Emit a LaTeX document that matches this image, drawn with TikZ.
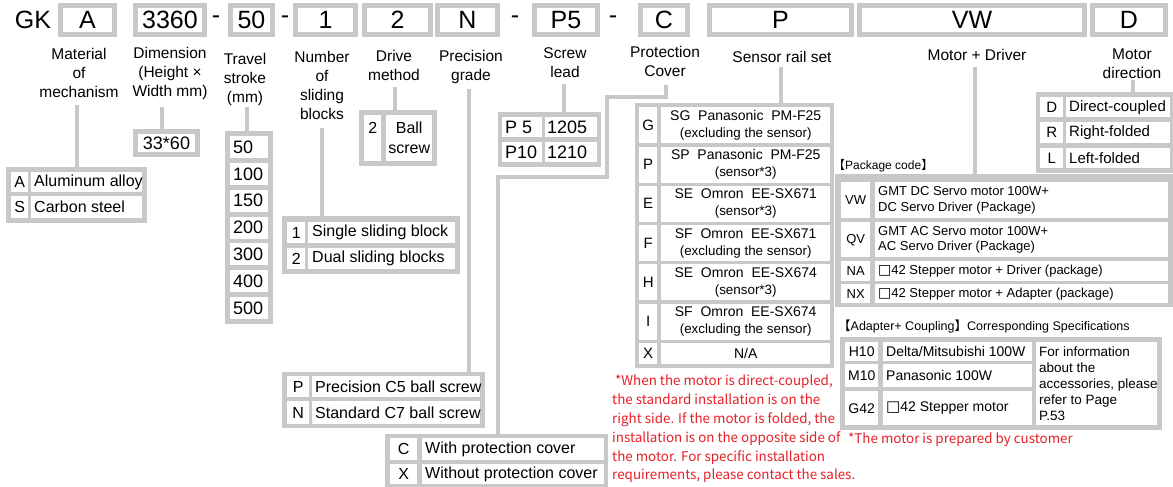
\documentclass[tikz,border=0pt]{standalone}
\usepackage{fontspec}
\setmainfont{Liberation Sans}
\newfontfamily\cjk{Noto Sans CJK SC}
\newfontfamily\dejavu{DejaVu Sans}
\definecolor{G}{RGB}{200,200,200}
\definecolor{R}{RGB}{232,32,40}
\newcommand\fz[2]{\fontsize{#1}{#2}\selectfont}
\newcommand\sq{{\dejavu\fontsize{14}{12}\selectfont □}}
% cell: [opts]{name}{x}{y}{w}{h}{text} (centred text)
\newcommand\cl[7][]{\node[cell,minimum width=#5pt,minimum height=#6pt,#1] (#2) at (#3,#4) {#7};}
% cell with left text: [opts]{name}{x}{y}{w}{h}{pad}{text}
\newcommand\clt[8][]{\node[cell,minimum width=#5pt,minimum height=#6pt] (#2) at (#3,#4) {};
  \node[anchor=west,inner sep=0pt,align=left,#1] at ([xshift=#7pt]#2.west) {#8};}
\begin{document}
\begin{tikzpicture}[x=1pt,y=-1pt,
  conn/.style={draw=G,line width=4.5pt},
  codebox/.style={draw=G,line width=5pt,fill=white,inner sep=0pt,font=\fz{25}{30}},
  lab/.style={align=center,font=\fz{15.5}{19},inner sep=0pt},
  cell/.style={fill=white,inner sep=0pt,anchor=north west},
  tb/.style={fill=G,inner sep=0pt,anchor=north west}]
\useasboundingbox (0,0) rectangle (1173,487);
\fill[white] (0,0) rectangle (1173,487);
% ---------- top code row ----------
\node[font=\fz{25}{30},inner sep=0pt] (gk) at (33,20) {GK};
\node[codebox,minimum width=54pt,minimum height=29pt] (cA) at (87.5,20) {A};
\node[codebox,minimum width=69pt,minimum height=29pt] (c3360) at (170,20) {3360};
\node[font=\fz{25}{30},inner sep=0pt] (d1) at (216,20) {-};
\node[codebox,minimum width=42pt,minimum height=29pt] (c50) at (251.5,20) {50};
\node[font=\fz{25}{30},inner sep=0pt] (d2) at (285,20) {-};
\node[codebox,minimum width=60pt,minimum height=29pt] (c1) at (325.5,20) {1};
\node[codebox,minimum width=66pt,minimum height=29pt] (c2) at (397.5,20) {2};
\node[codebox,minimum width=60pt,minimum height=29pt] (cN) at (467.5,20) {N};
\node[font=\fz{25}{30},inner sep=0pt] (d3) at (515,20) {-};
\node[codebox,minimum width=63pt,minimum height=29pt] (cP5) at (566,20) {P5};
\node[font=\fz{25}{30},inner sep=0pt] (d4) at (613,20) {-};
\node[codebox,minimum width=47pt,minimum height=29pt] (cC) at (664,20) {C};
\node[codebox,minimum width=142pt,minimum height=29pt] (cP) at (780.5,20) {P};
\node[codebox,minimum width=225pt,minimum height=29pt] (cVW) at (972,20) {VW};
\node[codebox,minimum width=73pt,minimum height=29pt] (cD) at (1129,20) {D};
% ---------- labels ----------
\node[lab] (lMat) at (79,73) {Material\\of\\mechanism};
\node[lab] (lDim) at (170,73) {Dimension\\(Height ×\\Width mm)};
\node[lab] (lTrav) at (245,79) {Travel\\stroke\\(mm)};
\node[lab] (lNum) at (322,85) {Number\\of\\sliding\\blocks};
\node[lab] (lDrv) at (394,65) {Drive\\method};
\node[lab] (lPrec) at (471,67) {Precision\\grade};
\node[lab] (lScr) at (565,63) {Screw\\lead};
\node[lab] (lProt) at (665,61) {Protection\\Cover};
\node[lab] (lSens) at (782,57) {Sensor rail set};
\node[lab] (lMot) at (977,55) {Motor + Driver};
\node[lab] (lDir) at (1132,64) {Motor\\direction};
% ---------- tables (backgrounds) ----------
\node[tb,minimum width=141pt,minimum height=56pt] (tMat) at (6,167) {};
\node[codebox,minimum width=62pt,minimum height=23pt,font=\fz{18}{21}] (tDim) at (166.5,143) {33*60};
\node[tb,minimum width=48pt,minimum height=193pt] (tTrav) at (225,131) {};
\node[tb,minimum width=178pt,minimum height=58pt] (tNum) at (282,216) {};
\node[tb,minimum width=78pt,minimum height=56pt] (tDrv) at (359,110) {};
\node[tb,minimum width=203pt,minimum height=56pt] (tPrec) at (282,372) {};
\node[tb,minimum width=103pt,minimum height=55pt] (tScr) at (498,112) {};
\node[tb,minimum width=223pt,minimum height=54pt] (tCX) at (385,434) {};
\node[tb,minimum width=199pt,minimum height=265pt] (tSens) at (635,103) {};
\node[tb,minimum width=340pt,minimum height=133pt] (tPkg) at (835,174) {};
\node[tb,minimum width=140pt,minimum height=81pt] (tDir) at (1036,92) {};
\node[tb,minimum width=322pt,minimum height=93pt] (tAdp) at (840,337) {};
% ---------- connectors ----------
\coordinate (kMat) at (77,105);   \draw[conn] (kMat) -- (kMat |- tMat.north);
\coordinate (kDim) at (162,107);  \draw[conn] (kDim) -- (kDim |- tDim.north);
\coordinate (kTrav) at (247,107); \draw[conn] (kTrav) -- (kTrav |- tTrav.north);
\coordinate (kNum) at (322,128);  \draw[conn] (kNum) -- (kNum |- tNum.north);
\coordinate (kDrv) at (395,87);   \draw[conn] (kDrv) -- (kDrv |- tDrv.north);
\coordinate (kPrec) at (469,89);  \draw[conn] (kPrec) -- (kPrec |- tPrec.north);
\coordinate (kScr) at (564,84);   \draw[conn] (kScr) -- (kScr |- tScr.north);
\coordinate (kP1) at (666,85);
\coordinate (kP2) at (607,97);
\coordinate (kP3) at (498,177);
\draw[conn] (kP1) |- (kP2) |- (kP3) -- (kP3 |- tCX.north);
\coordinate (kSens) at (781,67);  \draw[conn] (kSens) -- (kSens |- tSens.north);
\coordinate (kMot) at (975,67);   \draw[conn] (kMot) -- (kMot |- tPkg.north);
\coordinate (kDir) at (1133,80);  \draw[conn] (kDir) -- (kDir |- tDir.north);
% ---------- material ----------
\begin{scope}[font=\fz{16}{19}]
\cl{mA}{11}{172}{17}{20}{A}
\clt{mAt}{31}{172}{111}{20}{3}{Aluminum alloy}
\cl{mS}{11}{196}{17}{22}{S}
\clt{mSt}{31}{196}{111}{22}{3}{Carbon steel}
% number of blocks
\cl{n1}{287}{222}{18}{21}{1}
\clt{n1t}{308}{222}{147}{21}{4}{Single sliding block}
\cl{n2}{287}{248}{18}{21}{2}
\clt{n2t}{308}{248}{147}{21}{4}{Dual sliding blocks}
% drive
\cl[align=center,font=\fz{16}{20}]{dv2}{364}{115}{17}{46}{2\\\phantom{2}}
\cl[align=center,font=\fz{16}{20}]{dvt}{386}{115}{46}{46}{Ball\\screw}
% precision
\cl{pP}{287}{376}{22}{21}{P}
\clt{pPt}{312}{376}{168}{21}{3}{Precision C5 ball screw}
\cl{pN}{287}{401}{22}{23}{N}
\clt{pNt}{312}{401}{168}{23}{3}{Standard C7 ball screw}
% protection
\cl{xC}{390}{438}{27}{22}{C}
\clt{xCt}{422}{438}{182}{22}{3}{With protection cover}
\cl{xX}{390}{464}{27}{20}{X}
\clt{xXt}{422}{464}{182}{20}{3}{Without protection cover}
\end{scope}
% travel
\begin{scope}[font=\fz{18}{21}]
\foreach \v [count=\i from 0] in {50,100,150,200,300,400,500}
  {\clt{tv\v}{230}{136+26.8*\i}{38}{22}{3}{\v}}
% screw lead
\clt{sP5}{502}{117}{40}{20}{3}{P 5}
\clt{sP5t}{545}{117}{52}{20}{2}{1205}
\clt{sP10}{502}{142}{40}{20}{3}{P10}
\clt{sP10t}{545}{142}{52}{20}{2}{1210}
\end{scope}
% sensor
\begin{scope}[font=\fz{15}{17}]
\foreach \c/\a/\b [count=\i from 0] in
  {G/SG\ \ Panasonic\ \ PM-F25/(excluding the sensor),
   P/SP\ \ Panasonic\ \ PM-F25/(sensor*3),
   E/SE\ \ Omron\ \ EE-SX671/(sensor*3),
   F/SF\ \ Omron\ \ EE-SX671/(excluding the sensor),
   H/SE\ \ Omron\ \ EE-SX674/(sensor*3),
   I/SF\ \ Omron\ \ EE-SX674/(excluding the sensor)}
  {\cl{se\c}{639}{107+39.3*\i}{18}{36}{\c}
   \cl[align=center,font=\fz{13.4}{17}]{se\c t}{661}{107+39.3*\i}{169}{36}{{\fz{14}{17}\a}\\\b}}
\cl{seX}{639}{343}{18}{21}{X}
\cl[font=\fz{14}{17}]{seXt}{661}{343}{169}{21}{N/A}
\end{scope}
% package
\node[anchor=west,inner sep=0pt,font=\fz{12}{14}] (pkgT) at (833,166) {{\cjk 【}Package code{\cjk 】}};
\begin{scope}[font=\fz{13}{15.5}]
\cl{kVW}{841}{182}{29}{36}{VW}
\clt[align=left]{kVWt}{875}{182}{293}{36}{3}{GMT DC Servo motor 100W+\\DC Servo Driver (Package)}
\cl{kQV}{841}{222}{29}{35}{QV}
\clt[align=left]{kQVt}{875}{222}{293}{35}{3}{GMT AC Servo motor 100W+\\AC Servo Driver (Package)}
\cl{kNA}{841}{261}{29}{20}{NA}
\clt{kNAt}{875}{261}{293}{20}{3}{\sq42 Stepper motor + Driver (package)}
\cl{kNX}{841}{284}{29}{19}{NX}
\clt{kNXt}{875}{284}{293}{19}{3}{\sq42 Stepper motor + Adapter (package)}
\end{scope}
% motor direction
\begin{scope}[font=\fz{15}{18}]
\cl{rD}{1040}{97}{23}{20}{D}
\clt{rDt}{1066}{97}{104}{20}{3}{Direct-coupled}
\cl{rR}{1040}{122}{23}{21}{R}
\clt{rRt}{1066}{122}{104}{21}{3}{Right-folded}
\cl{rL}{1040}{148}{23}{20}{L}
\clt{rLt}{1066}{148}{104}{20}{3}{Left-folded}
\end{scope}
% adapter
\node[anchor=west,inner sep=0pt,font=\fz{12.5}{14}] (adpT) at (838,327) {{\cjk 【}Adapter+ Coupling{\cjk 】}Corresponding Specifications};
\begin{scope}[font=\fz{14}{16}]
\cl{aH}{845}{342}{33}{19}{H10}
\clt{aHt}{883}{342}{149}{19}{3}{Delta/Mitsubishi 100W}
\cl{aM}{845}{364}{33}{23}{M10}
\clt{aMt}{883}{364}{149}{23}{3}{Panasonic 100W}
\cl{aG}{845}{391}{33}{34}{G42}
\clt{aGt}{883}{391}{149}{34}{3}{{\dejavu\fontsize{15}{12}\selectfont □}42 Stepper motor}
\clt[font=\fz{13.5}{16}]{aInfo}{1036}{342}{121}{83}{3}{For information\\about the\\accessories, please\\refer to Page\\P.53}
\end{scope}
% red notes
\node[anchor=west,inner sep=0pt,align=left,text=R,font=\cjk\fz{13.4}{18.8}] (note1) at (612,429)
 {\hspace*{3pt}*When the motor is direct-coupled,\\the standard installation is on the\\right side. If the motor is folded, the\\installation is on the opposite side of\\the motor. For specific installation\\requirements, please contact the sales.};
\node[anchor=west,inner sep=0pt,text=R,font=\cjk\fz{13.4}{17}] (note2) at (848,440) {*The motor is prepared by customer};
\end{tikzpicture}
\end{document}
